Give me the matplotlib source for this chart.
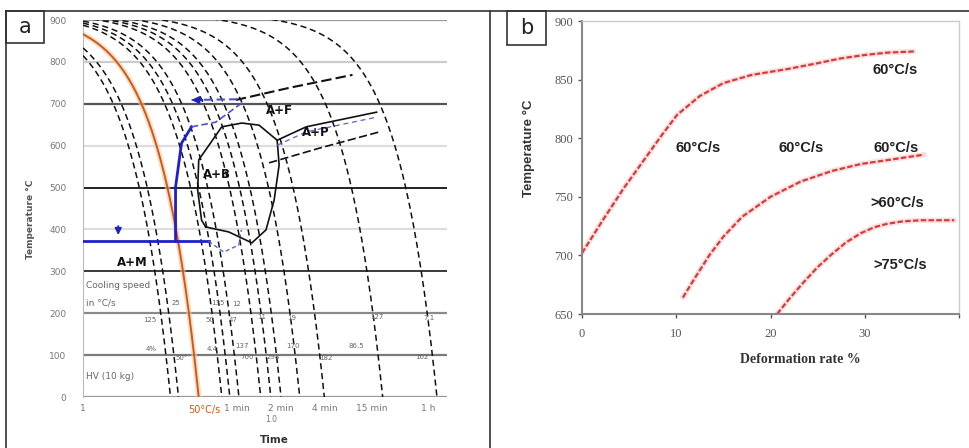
import numpy as np
import matplotlib.pyplot as plt
from matplotlib.lines import Line2D
from matplotlib.patches import Rectangle

# ---- panel a : CCT diagram ----
T_START = 915
COOLING_RATES = [100, 81.7, 27.3, 22.3, 17.7, 10.2, 7.9, 6.1, 3.8, 2.04, 0.466, 0.118]  # degC/s
HIGHLIGHT_RATE = 49                                                                   # "50°C/s"

A_YTICKS = [0, 100, 200, 300, 400, 500, 600, 700, 800, 900]
A_GRID_COLORS = ['#999999', '#7a7a7a', '#8a8a8a', '#2a2a2a', '#dddddd',
                 '#111111', '#dddddd', '#555555', '#cccccc', '#9a9a9a']
A_XTICKS = [1, 49, 148, 457, 1480, 6200]
A_XTICKLABELS = ['1', '1 min', '2 min', '4 min', '15 min', '1 h']

# phase boundaries (time s, temperature degC)
MS_T = [1, 24]
MS_Y = [372, 372]
BS_T = [10.4, 10.4, 12.1, 15.6]
BS_Y = [372, 501, 606, 645]
BS_DASH_T = [15.6, 28.7, 55.7]
BS_DASH_Y = [645, 656, 702]
MS_DASH_T = [24, 35.2, 51.6, 55]
MS_DASH_Y = [372, 346, 363, 399]
FS_T = [47.8, 184, 915]
FS_Y = [709, 738, 769]
NOSE_T = [22.3, 20.1, 18.2, 18.7, 33.5, 55.7, 86, 136, 143, 126, 102.6, 71.8, 40, 22.3]
NOSE_Y = [406, 422, 494, 566, 645, 654, 649, 613, 554, 470, 399, 368, 394, 406]
PS_T = [136, 284, 1686]
PS_Y = [613, 645, 680]
PF_T = [111, 395, 1819]
PF_Y = [559, 594, 633]

PHASE_LABELS = ['A+F', 'A+P', 'A+B', 'A+M']
PHASE_T = [143, 357, 30, 3.5]
PHASE_Y = [685, 632, 530, 322]

SMALL_TXT = ['125', '25', '135', '12', '50', '47', '4%', '4.4', '11', '19', '127',
             '7.1', '137', '170', '86.5', '700', '298', '182', '162', '50°']
SMALL_T = [5.4, 10.4, 30.3, 49, 25, 45, 5.6, 26, 92, 195, 1700,
           6400, 56, 205, 1010, 63, 122, 470, 5300, 12]
SMALL_Y = [184, 224, 224, 222, 184, 184, 115, 115, 190, 188, 190,
           188, 122, 122, 122, 95, 95, 93, 95, 93]

# ---- panel b : temperature vs deformation ----
DEF_1 = [0, 2.2, 4.4, 6.9, 8.5, 10.1, 12.5, 15, 18, 21.8, 25, 27.4, 30, 32.4, 35.2]
TEMP_1 = [702, 730, 757, 785, 803, 820, 836, 847, 854, 859, 864, 868, 871, 873, 874]
DEF_2 = [10.7, 12, 13.5, 15, 17, 20, 23.2, 26.5, 29.6, 33, 36.3]
TEMP_2 = [664, 681, 700, 716, 733, 750, 763, 772, 778, 782, 786]
DEF_3 = [20.7, 22, 23.5, 25, 26.5, 28, 29.6, 31, 32.4, 34, 36, 39.5]
TEMP_3 = [650, 663, 677, 690, 701, 711, 719, 724, 727, 729, 730, 730]

B_LABELS = ['60°C/s', '60°C/s', '60°C/s', '60°C/s', '>60°C/s', '>75°C/s']
B_LAB_X = [33.2, 12.3, 23.2, 33.3, 33.5, 33.8]
B_LAB_Y = [858, 792, 792, 792, 745, 692]

fig = plt.figure(figsize=(9.69, 4.48), dpi=100)
W, H = 969, 448


def fig_line(x0, y0, x1, y1):
    fig.add_artist(Line2D([x0 / W, x1 / W], [1 - y0 / H, 1 - y1 / H],
                          color='#333333', lw=1.2, transform=fig.transFigure))


fig_line(6, 11, 969, 11)
fig_line(6, 11, 6, 448)
fig_line(490, 11, 490, 448)

for lab, x0, x1, y1 in [('a', 6, 44, 43), ('b', 507, 546, 45)]:
    fig.add_artist(Rectangle((x0 / W, 1 - y1 / H), (x1 - x0) / W, (y1 - 11) / H,
                             transform=fig.transFigure, fill=False, ec='#333333', lw=1.2))
    fig.text((x0 + x1) / 2 / W, 1 - (11 + y1) / 2 / H, lab, ha='center', va='center',
             fontsize=15, family='DejaVu Sans', color='#222222')

# panel a
ax = fig.add_axes([83 / W, 1 - 397 / H, 364 / W, 377 / H])
ax.set_xscale('log')
ax.set_xlim(1, 1e4)
ax.set_ylim(0, 900)
for v, c in zip(A_YTICKS, A_GRID_COLORS):
    lw = 1.3 if c in ('#111111', '#2a2a2a') else 1.6
    ax.axhline(v, color=c, lw=lw, zorder=1)

for r in COOLING_RATES:
    t = np.logspace(0, np.log10(T_START / r), 300)
    ax.plot(t, T_START - r * t, color='#111111', lw=1.1, ls=(0, (4, 2.5)), zorder=3)
t = np.logspace(0, np.log10(T_START / HIGHLIGHT_RATE), 300)
ax.plot(t, T_START - HIGHLIGHT_RATE * t, color='#f5c9a0', lw=4, alpha=0.6, zorder=2)
ax.plot(t, T_START - HIGHLIGHT_RATE * t, color='#cc5a1a', lw=1.4, zorder=4)

ax.plot(MS_T, MS_Y, color='#2020c8', lw=2, zorder=5)
ax.plot(BS_T, BS_Y, color='#2020c8', lw=2, zorder=5)
ax.plot(BS_DASH_T, BS_DASH_Y, color='#5050d0', lw=1.2, ls=(0, (4, 2)), zorder=5)
ax.plot(MS_DASH_T, MS_DASH_Y, color='#6060d0', lw=1.0, ls=(0, (3, 2)), zorder=5)
ax.plot(FS_T, FS_Y, color='#111111', lw=1.5, ls=(0, (5, 2)), zorder=5)
ax.plot([15.6, 55.7], [709, 711], color='#5050d0', lw=1.5, ls=(0, (4, 2)), zorder=5)
ax.annotate('', xy=(14.5, 709), xytext=(22, 709),
            arrowprops=dict(arrowstyle='-|>', color='#2020c8', lw=1.5), zorder=6)
ax.annotate('', xy=(2.44, 380), xytext=(2.44, 415),
            arrowprops=dict(arrowstyle='-|>', color='#2020c8', lw=1.2), zorder=6)
ax.plot(NOSE_T, NOSE_Y, color='#111111', lw=1.2, zorder=5)
ax.plot(PS_T, PS_Y, color='#111111', lw=1.2, zorder=5)
ax.plot(PF_T, PF_Y, color='#111111', lw=1.2, ls=(0, (5, 2)), zorder=5)
ax.plot(PS_T, [y - 12 for y in PS_Y], color='#6060d0', lw=0.9, ls=(0, (4, 3)), zorder=5)

for s, tt, yy in zip(PHASE_LABELS, PHASE_T, PHASE_Y):
    ax.text(tt, yy, s, ha='center', va='center', fontsize=8.5, fontweight='bold',
            color='#111111', zorder=7)
for s, tt, yy in zip(SMALL_TXT, SMALL_T, SMALL_Y):
    ax.text(tt, yy, s, ha='center', va='center', fontsize=5, color='#666666', zorder=7)
ax.text(1.08, 267, 'Cooling speed', fontsize=6.5, color='#666666', va='center')
ax.text(1.08, 224, 'in °C/s', fontsize=6.5, color='#666666', va='center')
ax.text(1.08, 50, 'HV (10 kg)', fontsize=6.5, color='#666666', va='center')

ax.set_yticks(A_YTICKS)
ax.set_xticks(A_XTICKS)
ax.set_xticklabels(A_XTICKLABELS)
ax.minorticks_off()
ax.tick_params(length=0, labelsize=6.5, colors='#777777', pad=5)
ax.tick_params(axis='y', pad=12)
for sp in ['top', 'right', 'bottom']:
    ax.spines[sp].set_visible(False)
ax.spines['left'].set_color('#bbbbbb')
ax.text(21.7, -0.02, '50°C/s', transform=ax.get_xaxis_transform(), ha='center', va='top',
        fontsize=7, color='#cc5a1a')
ax.text(118, -0.061, '1.0', transform=ax.get_xaxis_transform(), ha='center', va='center',
        fontsize=5.5, color='#777777')
ax.text(125, -0.115, 'Time', transform=ax.get_xaxis_transform(), ha='center', va='center',
        fontsize=7.5, fontweight='bold', color='#333333')
ax.text(-0.145, 0.47, 'Temperature °C', transform=ax.transAxes, rotation=90,
        ha='center', va='center', fontsize=6.5, fontweight='bold', color='#555555')

# panel b
bx = fig.add_axes([582 / W, 1 - 314 / H, 377 / W, 293 / H])
for xs, ys in [(DEF_1, TEMP_1), (DEF_2, TEMP_2), (DEF_3, TEMP_3)]:
    bx.plot(xs, ys, color='#f6c0c0', lw=4, alpha=0.45, solid_capstyle='round')
    bx.plot(xs, ys, color='#d83a3a', lw=1.6, ls=(0, (2.5, 1)))
for s, xx, yy in zip(B_LABELS, B_LAB_X, B_LAB_Y):
    bx.text(xx, yy, s, ha='center', va='center', fontsize=10.5, fontweight='bold',
            color='#222222', family='Liberation Sans')
bx.set_xlim(0, 40)
bx.set_ylim(650, 900)
bx.set_xticks([0, 10, 20, 30, 40])
bx.set_xticklabels(['0', '10', '20', '30', ''])
bx.set_yticks([650, 700, 750, 800, 850, 900])
bx.tick_params(labelsize=9, colors='#555555', length=3, width=1)
for lab in bx.get_xticklabels() + bx.get_yticklabels():
    lab.set_family('Liberation Serif')
bx.tick_params(axis='x', pad=7)
for sp in ['left', 'bottom']:
    bx.spines[sp].set_color('#888888')
    bx.spines[sp].set_linewidth(1.5)
for sp in ['top', 'right']:
    bx.spines[sp].set_color('#cccccc')
    bx.spines[sp].set_linewidth(1)
bx.set_xlabel('Deformation rate %', fontsize=10, fontweight='bold', family='Liberation Serif',
              color='#333333')
bx.xaxis.set_label_coords(0.58, -0.133)
bx.set_ylabel('Temperature °C', fontsize=9.5, fontweight='bold', family='Liberation Sans',
              color='#333333')
bx.yaxis.set_label_coords(-0.125, 0.567)

fig.savefig('out.png', dpi=100)
